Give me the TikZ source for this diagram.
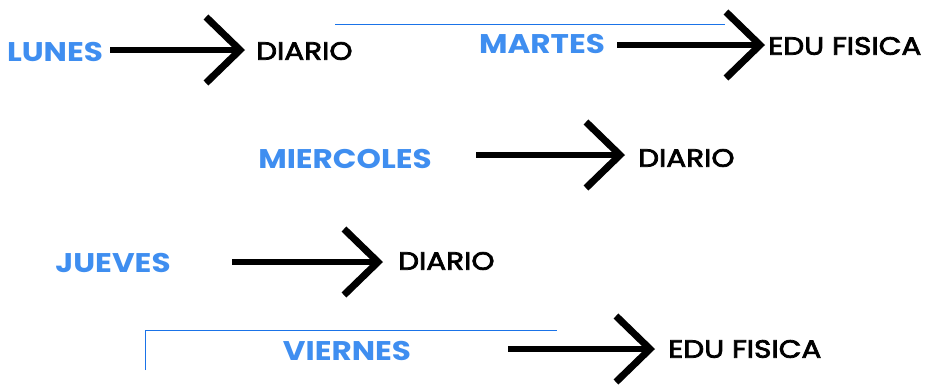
\documentclass[tikz,border=0pt]{standalone}
\usepackage{fontspec}
\setmainfont{Poppins}
\newfontfamily\diafont{Poppins}[FakeStretch=1.15]
\newfontfamily\subjfont{Poppins}[FakeStretch=1.18, FakeBold=3]
\usetikzlibrary{arrows.meta}
\definecolor{diablue}{HTML}{3F8EF0}
\definecolor{rulblue}{HTML}{1A73E8}
\tikzset{
  dia/.style={font=\diafont\fontsize{27}{27}\selectfont\bfseries, text=diablue, inner sep=0pt},
  subj/.style={font=\subjfont\fontsize{25}{25}\selectfont, anchor=west, inner sep=0pt},
  flecha/.style={line width=6pt, -{Straight Barb[length=34pt,width=66pt,line width=7pt]}},
  raya/.style={rulblue, line width=1pt}
}
\begin{document}
\begin{tikzpicture}[x=1pt,y=-1pt]
    \useasboundingbox (0,0) rectangle (928,389);

    % dias
    \node[dia] (lun) at (55,52) {LUNES};
    \node[dia] (mar) at (542,44) {MARTES};
    \node[dia] (mie) at (345,159) {MIERCOLES};
    \node[dia] (jue) at (113,263) {JUEVES};
    \node[dia] (vie) at (347,351) {VIERNES};

    % materias
    \node[subj] (lunM) at (256,51) {DIARIO};
    \node[subj] (marM) at (768,46) {EDU FISICA};
    \node[subj] (mieM) at (638,158) {DIARIO};
    \node[subj] (jueM) at (398,261) {DIARIO};
    \node[subj] (vieM) at (668,349) {EDU FISICA};

    % inicio de las flechas
    \coordinate (lunA) at (110,50);
    \coordinate (marA) at (617,45);
    \coordinate (mieA) at (476,155);
    \coordinate (jueA) at (232,262);
    \coordinate (vieA) at (508,349);

    \draw[flecha, shorten >=11pt] (lunA) -- (lunA -| lunM.west);
    \draw[flecha, shorten >=3pt] (marA) -- (marA -| marM.west);
    \draw[flecha, shorten >=13pt] (mieA) -- (mieA -| mieM.west);
    \draw[flecha, shorten >=15pt] (jueA) -- (jueA -| jueM.west);
    \draw[flecha, shorten >=13pt] (vieA) -- (vieA -| vieM.west);

    % lineas azules
    \draw[raya] (335,24) -- (725,24);
    \draw[raya] (145,370) -- (145,330) -- (557,330);
\end{tikzpicture}
\end{document}
